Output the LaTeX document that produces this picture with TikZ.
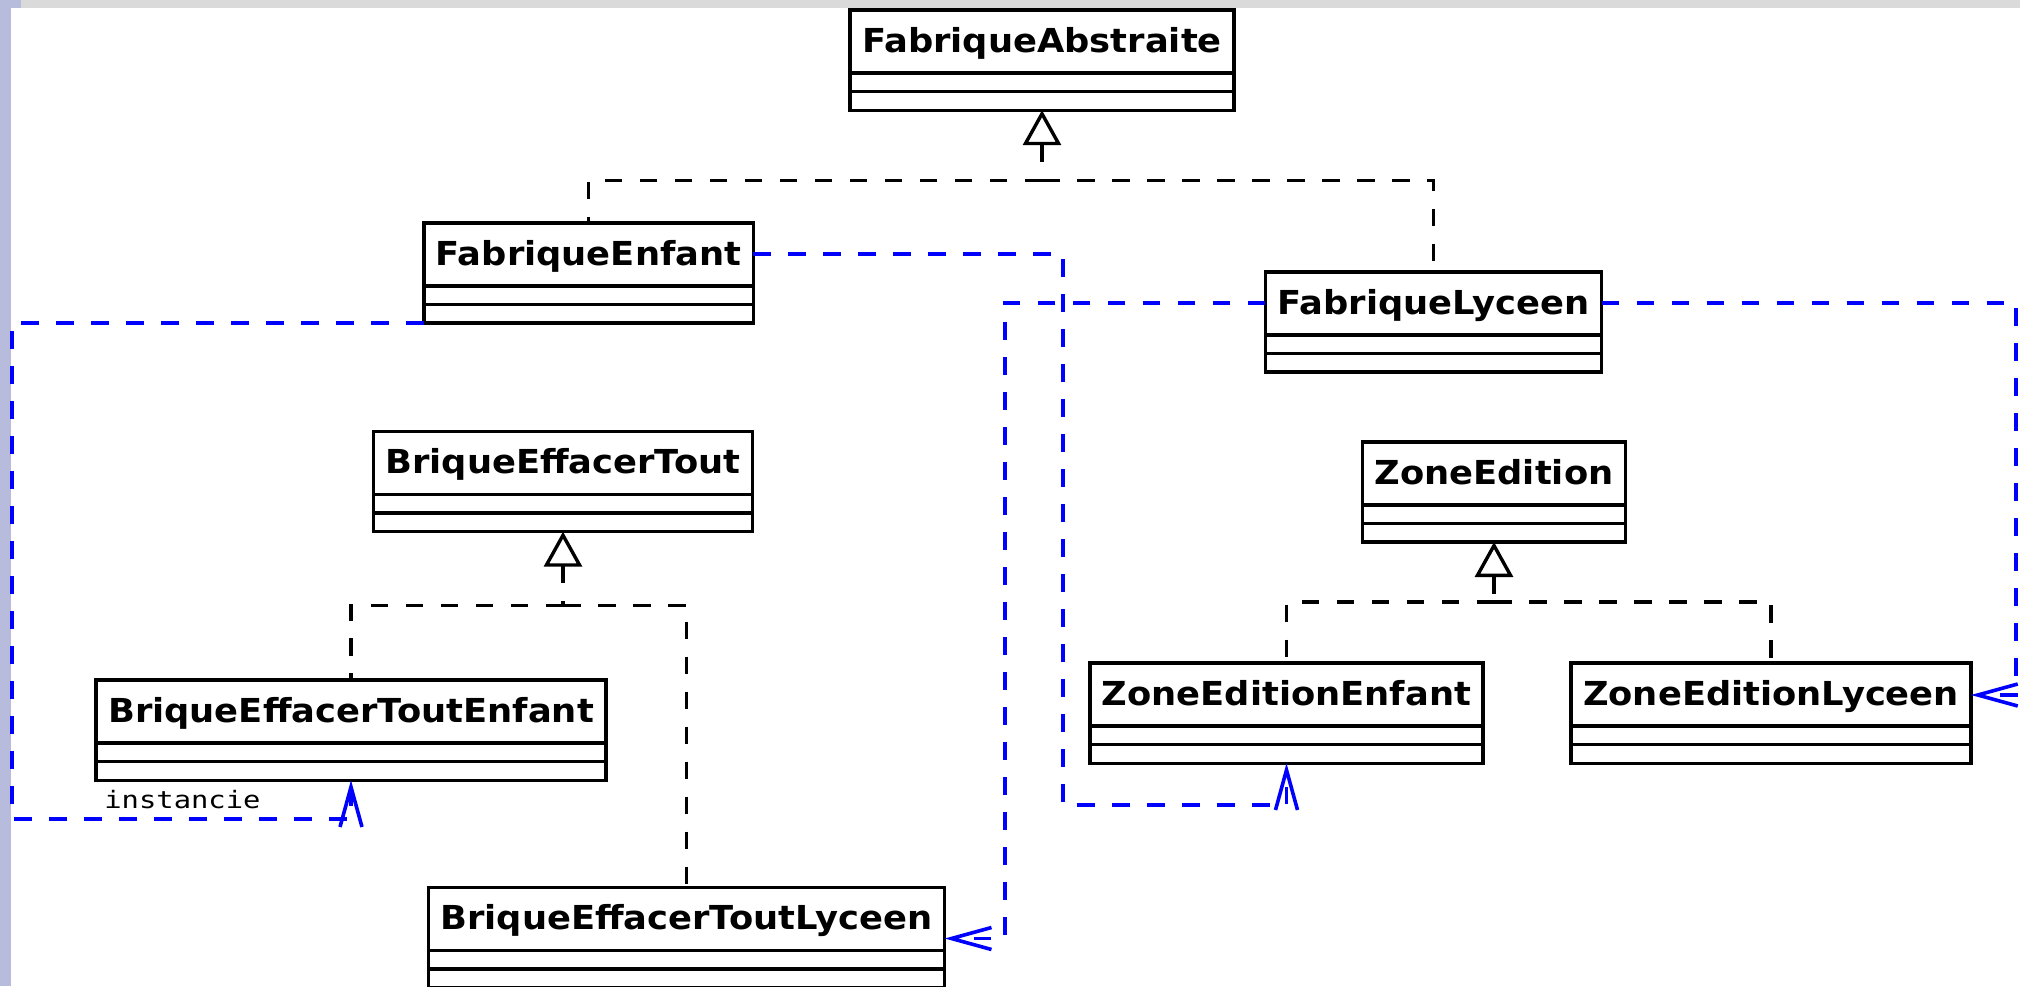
\documentclass[tikz,border=0pt]{standalone}
\usepackage{fontspec}
\usetikzlibrary{arrows.meta,shapes.multipart}

\newfontfamily\classfont[FakeStretch=1.07]{DejaVu Sans}
\newfontfamily\notefont[FakeStretch=1.2]{DejaVu Sans Mono}

\definecolor{bargray}{HTML}{DADADA}
\definecolor{barlilac}{HTML}{B7BCDC}
\definecolor{depblue}{HTML}{0000FF}

% height of the name compartment
\newcommand{\namestrut}{\rule[-9.5pt]{0pt}{29.8pt}}

\tikzset{
	umlclass/.style={rectangle split, rectangle split parts=3, draw, line width=1.7pt,
		inner xsep=6pt, inner ysep=0pt, outer sep=0pt, anchor=north,
		rectangle split empty part height=7.6pt, rectangle split empty part depth=0pt,
		font=\classfont\bfseries\fontsize{16.5}{20}\selectfont,
		execute at begin node=\namestrut},
	realize/.style={draw, line width=1.7pt, dash pattern=on 8.75pt off 8.75pt},
	generalize/.style={realize, {Triangle[open, length=17.5pt, width=19pt]}-},
	dependency/.style={draw=depblue, line width=1.8pt, dash pattern=on 8.75pt off 8.75pt,
		-{Straight Barb[length=20pt, width=11pt]}},
	deplabel/.style={font=\notefont\fontsize{12}{14}\selectfont, inner sep=0pt}
}

\begin{document}
\begin{tikzpicture}[x=0.5pt, y=-0.5pt]
		\useasboundingbox (0,0) rectangle (2020,986);
		\fill[bargray] (0,0) rectangle (2020,7.5);
		\fill[barlilac] (0,0) rectangle (11,986);
		\fill[barlilac] (0,0) rectangle (21,7.5);

		% classes
		\node[umlclass] (fa) at (1042,10) {FabriqueAbstraite};
		\node[umlclass] (fe) at (588.6,222.8) {FabriqueEnfant};
		\node[umlclass] (fl) at (1433.5,271.8) {FabriqueLyceen};
		\node[umlclass] (bet) at (563,431.5) {BriqueEffacerTout};
		\node[umlclass] (bete) at (351,680) {BriqueEffacerToutEnfant};
		\node[umlclass] (betl) at (686.5,887.5) {BriqueEffacerToutLyceen};
		\node[umlclass] (ze) at (1494,441.8) {ZoneEdition};
		\node[umlclass] (zee) at (1286.5,663) {ZoneEditionEnfant};
		\node[umlclass] (zel) at (1771,663) {ZoneEditionLyceen};

		% inheritance
		\coordinate (jA) at ([yshift=-35pt]fa.south);
		\draw[generalize] (fa.south) -- (jA);
		\draw[realize] (jA) -| (fe.north);
		\draw[realize] (jA) -| (fl.north);

		\coordinate (jB) at ([yshift=-36.75pt]bet.south);
		\draw[generalize] (bet.south) -- (jB);
		\draw[realize] (jB) -| (bete.north);
		\draw[realize] (jB) -| (betl.north);

		\coordinate (jZ) at ([yshift=-30pt]ze.south);
		\draw[generalize] (ze.south) -- (jZ);
		\draw[realize] (jZ) -| (zee.north);
		\draw[realize] (jZ) -| (zel.north);

		% the factories create the products
		\coordinate (c1) at (12,819);
		\coordinate (c2) at (1063,805);
		\coordinate (c3) at (1005,600);
		\coordinate (c4) at (2016,500);
		\draw[dependency] (fe.south west) -| (c1) -| (bete.south);
		\node[deplabel, anchor=base west] (inst) at (104,808) {instancie};
		\draw[dependency] ([yshift=-15.5pt]fe.north east) -| (c2) -| (zee.south);
		\draw[dependency] ([yshift=-15.5pt]fl.north west) -| (c3) |- ([yshift=-25.5pt]betl.north east);
		\draw[dependency] ([yshift=-15.5pt]fl.north east) -| (c4) |- ([yshift=-16pt]zel.north east);
	\end{tikzpicture}
\end{document}
